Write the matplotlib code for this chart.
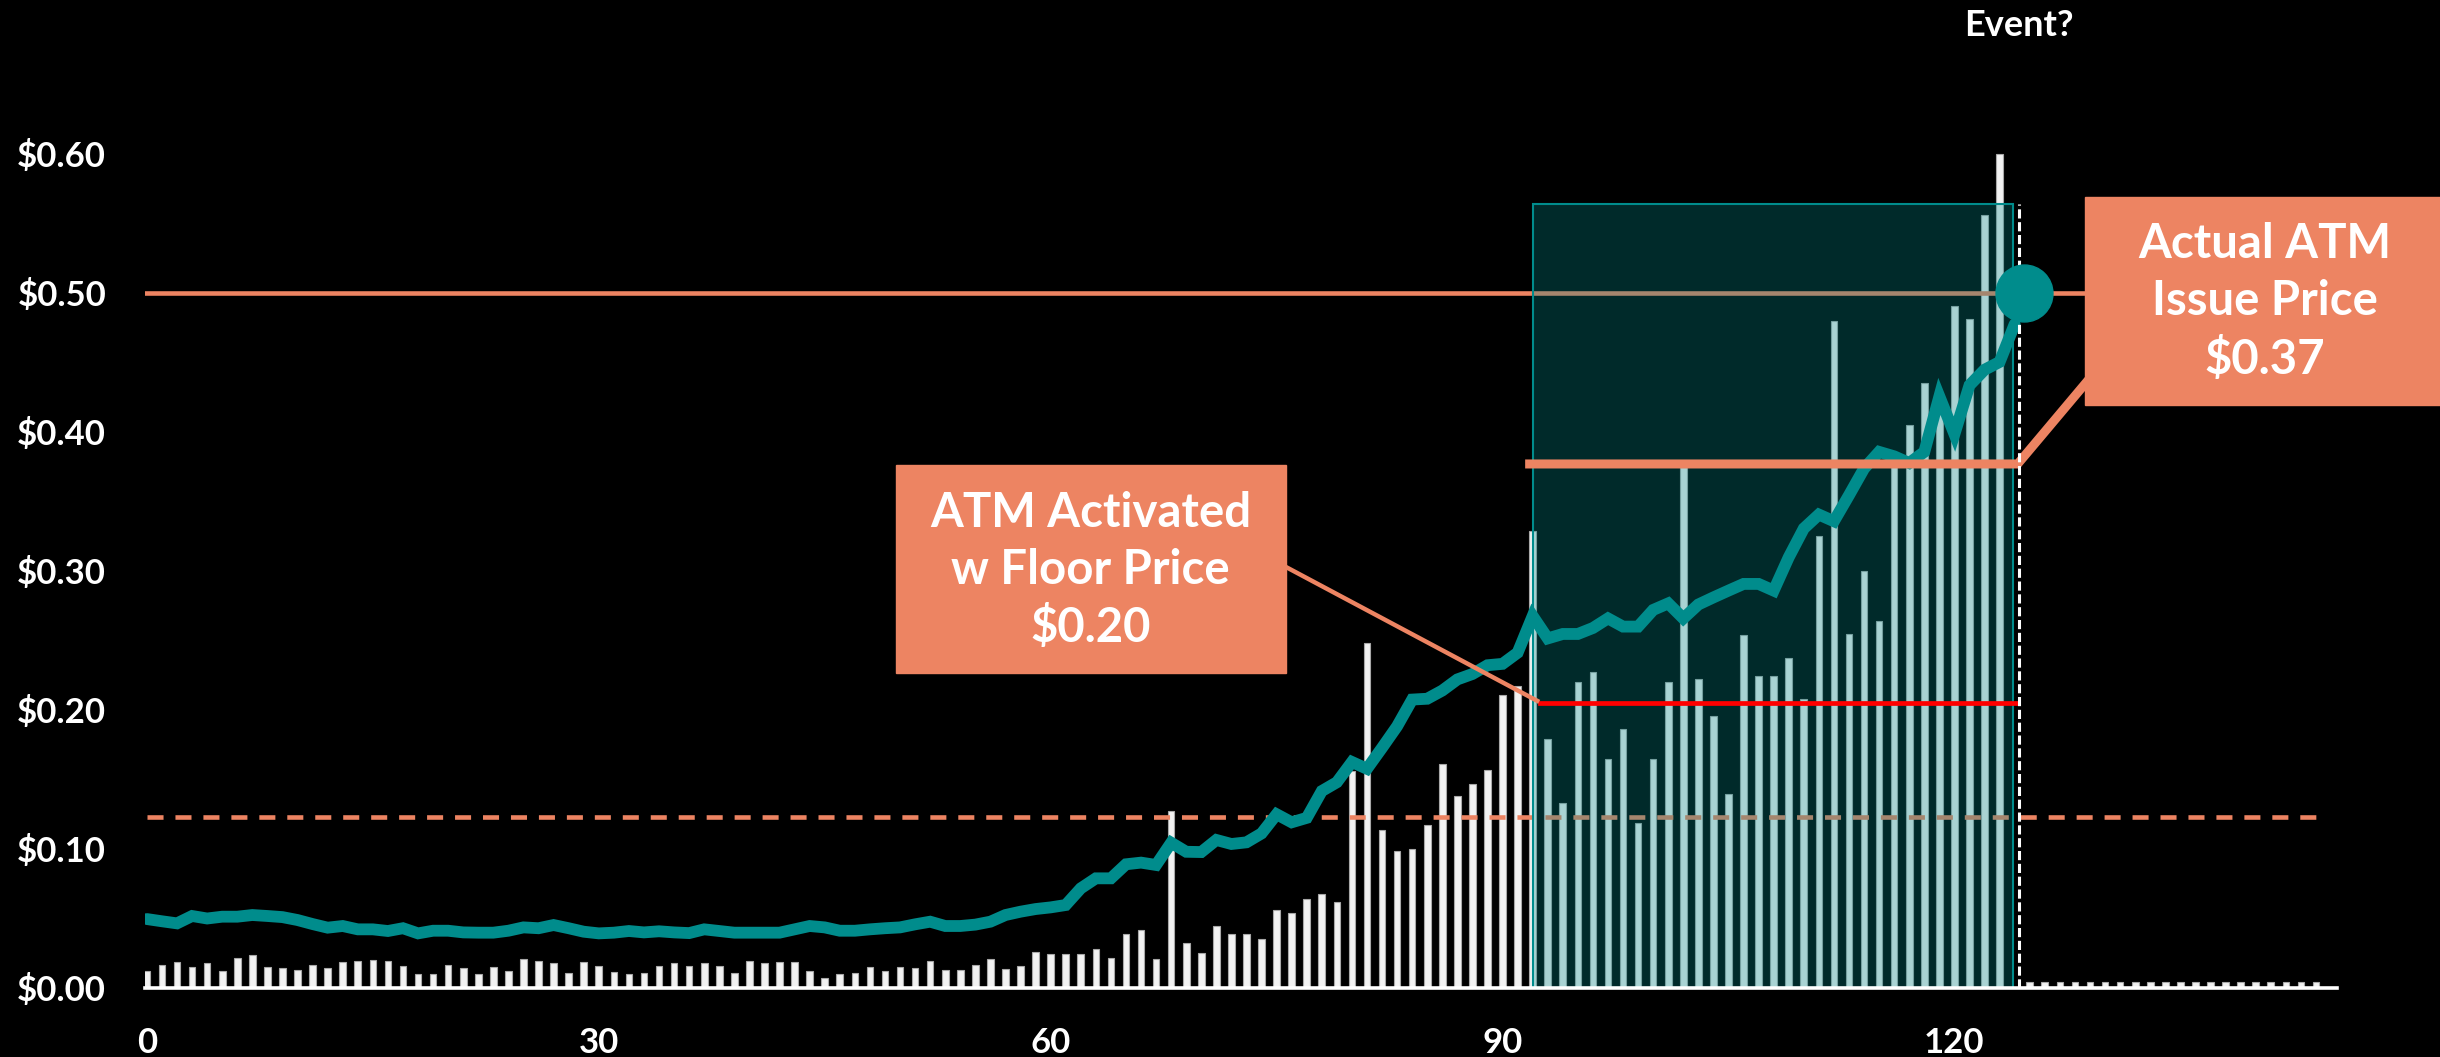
import matplotlib

matplotlib.use("Agg")
import matplotlib.pyplot as plt
from matplotlib.patches import Rectangle

plt.rcParams["font.family"] = ["Lato", "DejaVu Sans"]
plt.rcParams["font.weight"] = "bold"

# closing price per trading day (days 0..124)
price = [
    0.0496, 0.0480, 0.0465, 0.0518, 0.0500, 0.0513, 0.0513, 0.0525, 0.0518, 0.0510,
    0.0489, 0.0460, 0.0434, 0.0446, 0.0422, 0.0422, 0.0410, 0.0430, 0.0393, 0.0412,
    0.0412, 0.0400, 0.0398, 0.0398, 0.0412, 0.0436, 0.0430, 0.0453, 0.0430, 0.0405,
    0.0393, 0.0398, 0.0410, 0.0400, 0.0408, 0.0400, 0.0395, 0.0422, 0.0410, 0.0398,
    0.0398, 0.0398, 0.0398, 0.0422, 0.0446, 0.0436, 0.0412, 0.0412, 0.0422, 0.0430,
    0.0436, 0.0458, 0.0477, 0.0446, 0.0446, 0.0456, 0.0477, 0.0525, 0.0549, 0.0568,
    0.0580, 0.0597, 0.0717, 0.0789, 0.0789, 0.0890, 0.0902, 0.0885, 0.1045, 0.0980,
    0.0978, 0.1065, 0.1036, 0.1048, 0.1112, 0.1250, 0.1192, 0.1224, 0.1417, 0.1480,
    0.1626, 0.1577, 0.1728, 0.1883, 0.2075, 0.2081, 0.2140, 0.2220, 0.2259, 0.2322,
    0.2332, 0.2412, 0.2676, 0.2515, 0.2547, 0.2547, 0.2590, 0.2659, 0.2600, 0.2600,
    0.2720, 0.2767, 0.2659, 0.2759, 0.2810, 0.2859, 0.2907, 0.2907, 0.2859, 0.3099,
    0.3306, 0.3406, 0.3358, 0.3545, 0.3737, 0.3857, 0.3825, 0.3777, 0.3857, 0.4256,
    0.3985, 0.4336, 0.4448, 0.4504, 0.4776,
]

# daily volume, millions of shares (days 0..144)
volume = [
    1.25, 1.68, 1.85, 1.49, 1.78, 1.20, 2.16, 2.40, 1.53, 1.42,
    1.32, 1.68, 1.42, 1.85, 1.97, 2.01, 1.94, 1.58, 0.98, 1.00,
    1.68, 1.42, 0.98, 1.49, 1.22, 2.06, 1.92, 1.78, 1.10, 1.90,
    1.58, 1.18, 1.03, 1.10, 1.58, 1.82, 1.58, 1.82, 1.60, 1.08,
    1.92, 1.82, 1.85, 1.90, 1.25, 0.74, 0.98, 1.06, 1.49, 1.25,
    1.53, 1.41, 1.92, 1.32, 1.27, 1.65, 2.11, 1.39, 1.58, 2.57,
    2.42, 2.42, 2.42, 2.83, 2.18, 3.86, 4.15, 2.11, 12.73, 3.24,
    2.52, 4.44, 3.90, 3.85, 3.53, 5.62, 5.36, 6.42, 6.74, 6.20,
    15.58, 24.80, 11.40, 9.89, 10.02, 11.70, 16.15, 13.80, 14.70, 15.70,
    21.10, 21.74, 32.90, 17.90, 13.30, 22.00, 22.76, 16.45, 18.65, 11.86,
    16.45, 22.00, 37.50, 22.24, 19.56, 13.97, 25.43, 22.48, 22.48, 23.75,
    20.76, 32.54, 48.00, 25.47, 30.02, 26.43, 37.60, 40.50, 43.50, 42.00,
    49.10, 48.10, 55.60, 60.00, 0.00, 0.45, 0.45, 0.45, 0.45, 0.45,
    0.45, 0.45, 0.45, 0.45, 0.45, 0.45, 0.45, 0.45, 0.45, 0.45,
    0.45, 0.45, 0.45, 0.45, 0.45,
]

x_ticks = [0, 30, 60, 90, 120]
price_ticks = [0.0, 0.1, 0.2, 0.3, 0.4, 0.5, 0.6]

reference_level = 0.50
dashed_level = 0.123
floor_price = 0.205
issue_level = 0.377
atm_start = 91.8
event_day = 124.3
highlight_top = 0.564

TEAL = "#008C8C"
ORANGE = "#ED8462"
RED = "#FF0000"


def main():
    fig = plt.figure(figsize=(24.4, 10.57), dpi=100, facecolor="black")
    ax = fig.add_axes([0.0594, 0.06528, 0.8984, 0.92053])
    ax_vol = ax.twinx()
    ax.set_zorder(1)
    ax_vol.set_zorder(0)
    ax.patch.set_visible(False)
    ax_vol.patch.set_facecolor("black")

    ax.set_xlim(-0.13, 145.4)
    ax.set_ylim(0, 0.7)
    ax_vol.set_ylim(0, 70)

    # volume bars (bottom layer)
    ax_vol.bar(range(len(volume)), volume, width=0.44, color="#f2f2f2",
               edgecolor="#a8a8a8", linewidth=0.8, zorder=2)

    # price reference levels, drawn under the highlight box
    ax_vol.plot([-0.1, 128.7], [reference_level] * 2, color=ORANGE, lw=3.3,
                transform=ax.transData, zorder=3)
    ax_vol.plot([0, 144.0], [dashed_level] * 2, color=ORANGE, lw=3.3,
                dashes=(3.5, 2.6), transform=ax.transData, zorder=3)

    ax_vol.add_patch(Rectangle((atm_start + 0.2, 0), 123.9 - atm_start - 0.2, highlight_top,
                               facecolor=(0, 0.55, 0.55, 0.3), edgecolor=TEAL,
                               lw=1.5, transform=ax.transData, zorder=4))
    ax_vol.set_yticks([])
    for s in ax_vol.spines.values():
        s.set_visible(False)

    # price line and annotations (top layer)
    ax.plot(range(len(price)), price, color=TEAL, lw=8.5, solid_joinstyle="miter",
            solid_capstyle="round", zorder=5)
    ax.plot([92.5, event_day - 0.2], [floor_price] * 2, color=RED, lw=3.4, zorder=6)
    ax.plot([atm_start, 124.2, 128.7], [issue_level, issue_level, 0.435],
            color=ORANGE, lw=6.5, solid_joinstyle="miter", zorder=6)
    ax.plot([75.6, 92.3], [0.303, 0.2066], color=ORANGE, lw=3.2, zorder=6)
    ax.plot([event_day, event_day], [0, highlight_top], color="white", lw=2.2,
            dashes=(3, 1.2), zorder=6)
    ax.plot([event_day + 0.3], [reference_level], "o", ms=41, color=TEAL, zorder=7)

    ax.add_patch(Rectangle((49.7, 0.2268), 25.9, 0.1497, color=ORANGE, zorder=8))
    ax.text(62.65, 0.3005, "ATM Activated\nw Floor Price\n$0.20", color="white",
            fontsize=34, ha="center", va="center", linespacing=1.36, zorder=9)

    ax.add_patch(Rectangle((128.7, 0.4197), 24.5, 0.1493, color=ORANGE,
                           clip_on=False, zorder=8))
    ax.text(140.6, 0.4935, "Actual ATM\nIssue Price\n$0.37", color="white",
            fontsize=34, ha="center", va="center", linespacing=1.36, zorder=9,
            clip_on=False)

    ax.text(event_day, 0.6925, "Event?", color="white", fontsize=26,
            ha="center", va="center", clip_on=False)

    ax.set_xticks(x_ticks)
    ax.set_xticklabels([str(t) for t in x_ticks])
    ax.set_yticks(price_ticks)
    ax.set_yticklabels([f"${t:.2f}" for t in price_ticks])
    ax.tick_params(colors="white", labelsize=25, length=0, pad=28)
    for name in ["top", "right", "left"]:
        ax.spines[name].set_visible(False)
    ax.spines["bottom"].set_color("white")
    ax.spines["bottom"].set_linewidth(2.6)
    ax.spines["bottom"].set_zorder(10)

    fig.savefig("out.png", dpi=100, facecolor="black")


if __name__ == "__main__":
    main()
